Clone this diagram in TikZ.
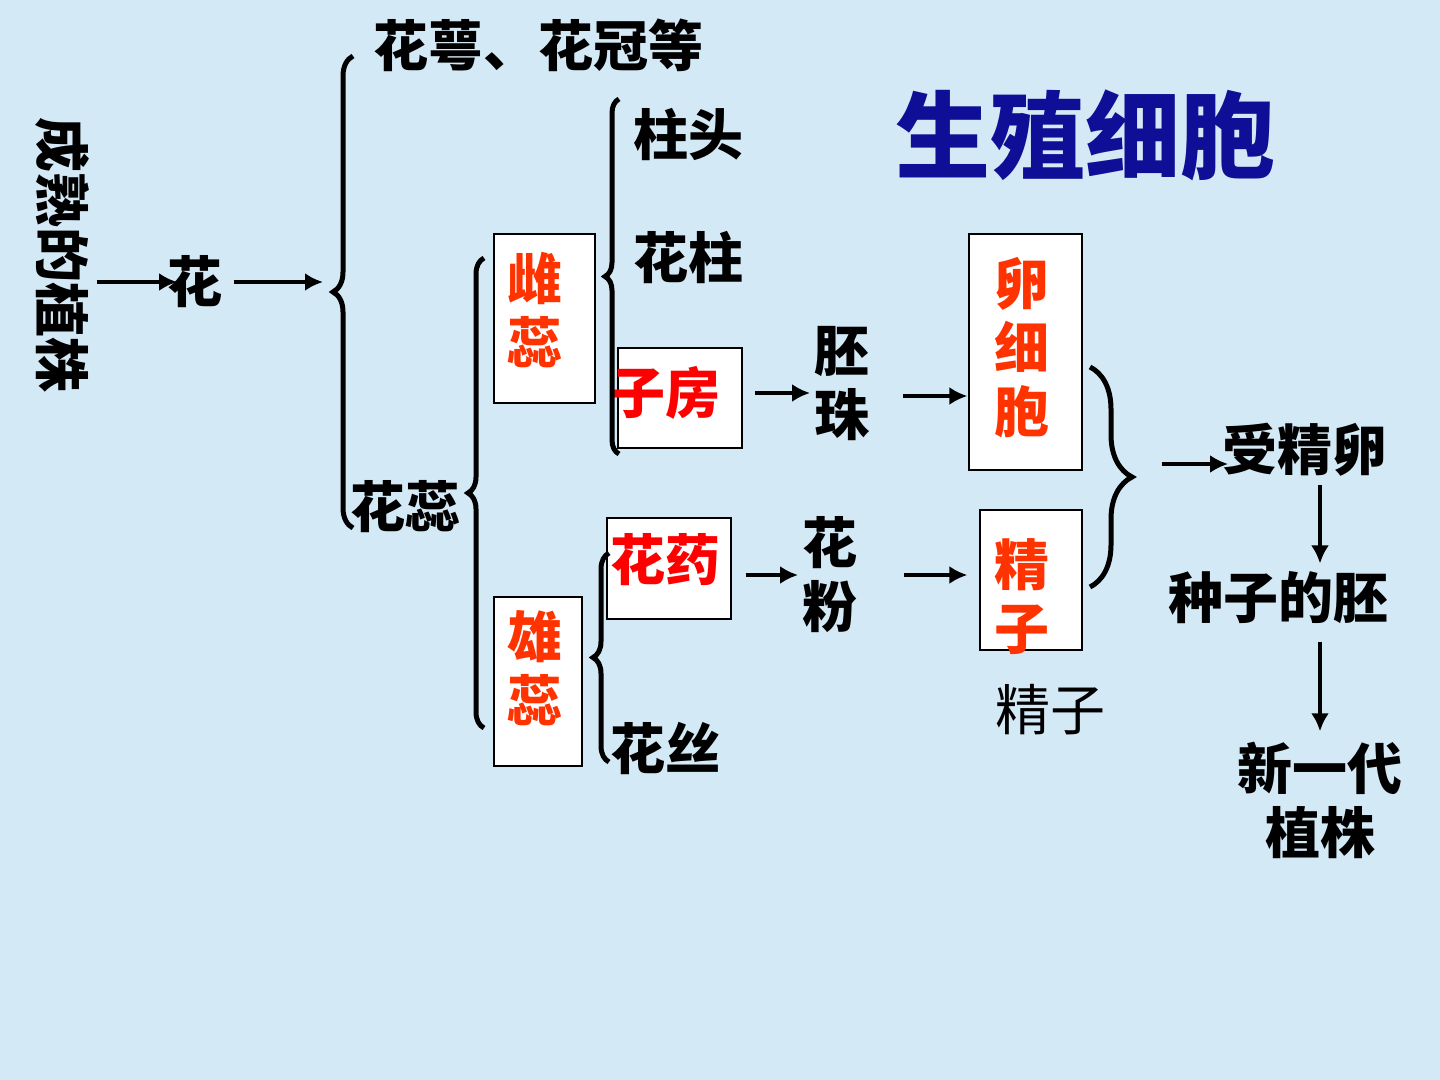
\documentclass[tikz,border=0pt]{standalone}
\usepackage{fontspec}
\setmainfont{Noto Sans CJK SC}[BoldFont={* Black}]
\usetikzlibrary{arrows.meta,decorations.pathreplacing,calc}
\definecolor{bgblue}{RGB}{212,233,246}
\definecolor{orangered}{RGB}{255,51,0}
\definecolor{titleblue}{RGB}{14,14,150}

\begin{document}
\begin{tikzpicture}[x=0.5pt,y=-0.5pt]
	\tikzset{word/.style={inner sep=0pt,align=center,font=\fontsize{27.5}{32}\selectfont\bfseries},
		redword/.style={word,text=orangered},
		box/.style={draw,fill=white,line width=0.6pt,inner sep=0pt},
		arr/.style={line width=2.4pt,-{Latex[length=9pt,width=9pt]}},
		brace/.style={line width=2.5pt,decorate,decoration={brace,amplitude=#1}}}
	\fill[bgblue] (0,0) rectangle (1440,1080);
	% white boxes
	\node[box,minimum width=50.5pt,minimum height=84.5pt] (pistilbox) at (544.5,318.5) {};
	\node[box,minimum width=44pt,minimum height=84.5pt] (stamenbox) at (538,681.5) {};
	\node[box,minimum width=62pt,minimum height=50pt] (ovarybox) at (680,398) {};
	\node[box,minimum width=62pt,minimum height=50.5pt] (antherbox) at (669,568.5) {};
	\node[box,minimum width=56.5pt,minimum height=118pt] (eggbox) at (1025.5,352) {};
	\node[box,minimum width=51pt,minimum height=70pt] (spermbox) at (1031,580) {};
	% texts
	\node[word,rotate=-90] (plant) at (62,255) {成熟的植株};
	\node[word] (flower) at (195,282) {花};
	\node[word] (perianth) at (538,45) {花萼、花冠等};
	\node[word] (essential) at (405,507) {花蕊};
	\node[redword] (pistil) at (535,310) {雌\\蕊};
	\node[redword] (stamen) at (535,668) {雄\\蕊};
	\node[word] (stigma) at (688,135) {柱头};
	\node[word] (stylus) at (688,258) {花柱};
	\node[word,text=red] (ovary) at (665,393) {子房};
	\node[word,text=red] (anther) at (665,560) {花药};
	\node[word] (filament) at (665,748) {花丝};
	\node[word] (ovule) at (842,384) {胚\\珠};
	\node[word] (pollen) at (830,575) {花\\粉};
	\node[redword] (egg) at (1022,348) {卵\\细\\胞};
	\node[redword] (sperm) at (1022,597) {精\\子};
	\node[inner sep=0pt,font=\fontsize{27.5}{32}\selectfont] (spermnote) at (1050,710) {精子};
	\node[inner sep=0pt,text=titleblue,font=\fontsize{47.5}{50}\selectfont\bfseries] (title) at (1085,135) {生殖细胞};
	\node[word] (zygote) at (1305,450) {受精卵};
	\node[word] (embryo) at (1278,598) {种子的胚};
	\node[word] (newplant) at (1320,800) {新一代\\植株};
	% braces
	\coordinate (br1top) at (353,56);
	\coordinate (br1bot) at (353,528);
	\coordinate (br2top) at (484,258);
	\coordinate (br2bot) at (484,728);
	\coordinate (br3top) at (619,99);
	\coordinate (br3bot) at (619,454);
	\coordinate (br4top) at (609,553);
	\coordinate (br4bot) at (609,762);
	\coordinate (br5top) at (1090,367);
	\coordinate (br5bot) at (1090,587);
	\draw[brace=10pt] (br1bot) -- (br1top);
	\draw[brace=8pt] (br2bot) -- (br2top);
	\draw[brace=7pt] (br3bot) -- (br3top);
	\draw[brace=8pt] (br4bot) -- (br4top);
	\draw[brace=21pt] (br5top) -- (br5bot);
	% arrows
	\draw[arr] ($(plant.north |- flower.west)+(8,0)$) -- ($(flower.west)+(10,0)$);
	\draw[arr] ($(flower.east)+(11,0)$) -- ($(br1top |- flower.east)+(-30,0)$);
	\draw[arr] ($(ovarybox.east)+(12,-5)$) -- ($(ovarybox.east -| ovule.west)+(-4,-5)$);
	\draw[arr] ($(ovule.east)+(33,12)$) -- ($(ovule.east -| eggbox.west)+(-1,12)$);
	\draw[arr] ($(pollen.west -| antherbox.east)+(14,0)$) -- ($(pollen.west)+(-4,0)$);
	\draw[arr] ($(pollen.east)+(46,0)$) -- ($(pollen.east -| spermbox.west)+(-12,0)$);
	\draw[arr] ($(zygote.west)+(-60,14)$) -- ($(zygote.west)+(6,14)$);
	\draw[arr] ($(zygote.south)+(15,8)$) -- ($(zygote.south |- embryo.north)+(15,-8)$);
	\draw[arr] ($(embryo.south -| newplant.north)+(0,17)$) -- ($(newplant.north)+(0,-10)$);
\end{tikzpicture}
\end{document}
